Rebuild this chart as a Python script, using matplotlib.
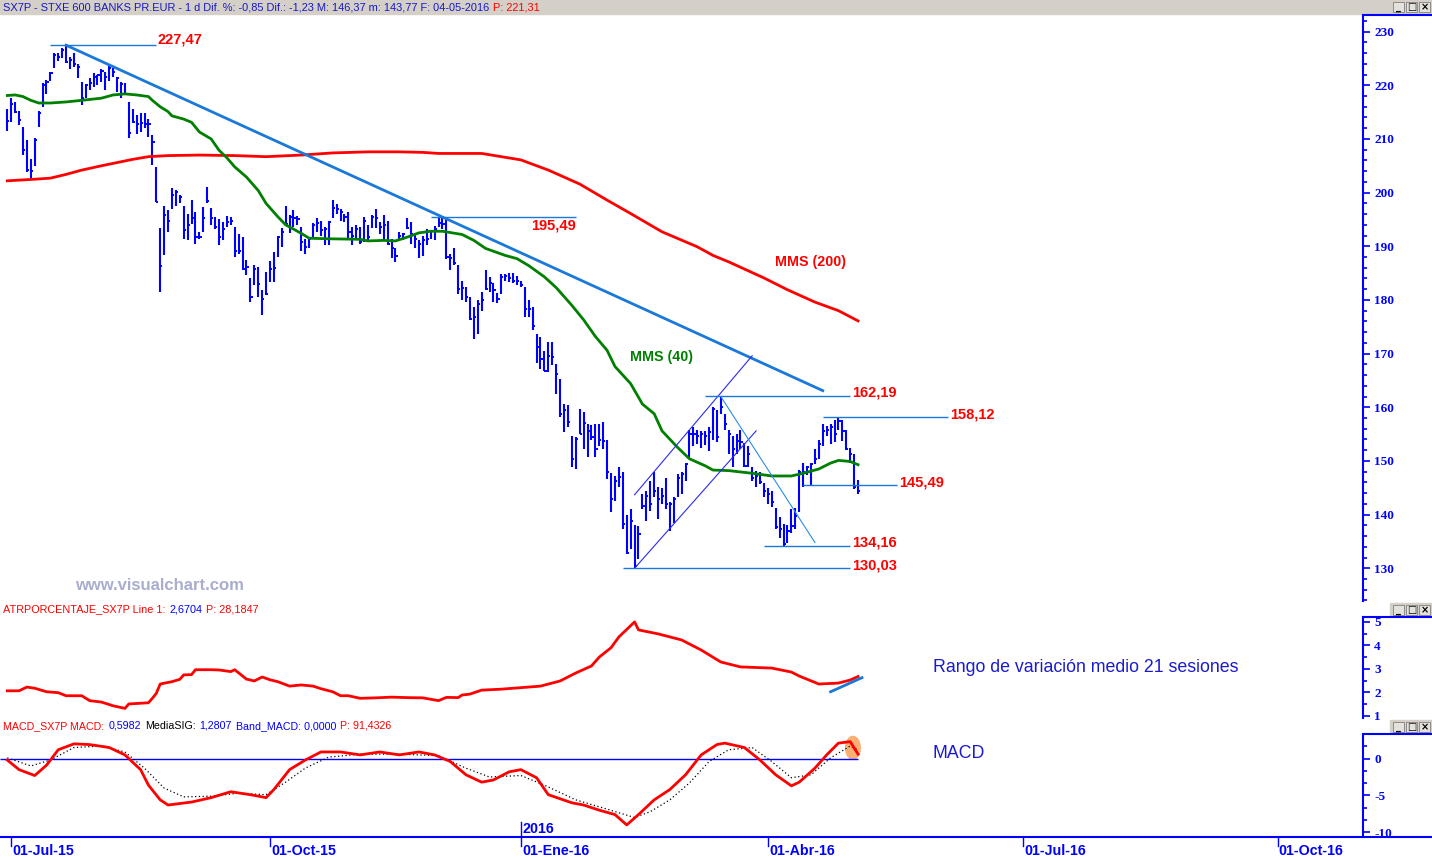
import numpy as np
import matplotlib
matplotlib.use('Agg')
import matplotlib.pyplot as plt
from matplotlib.patches import Rectangle, Ellipse
from matplotlib.lines import Line2D
from matplotlib.transforms import blended_transform_factory

# ---- datos (indice = sesion, 0 = 30-jun-2015) ----
HIGH = [215.6, 217.7, 216.9, 215.2, 212.2, 209.8, 206.2, 210.1, 215.2, 220.4,
        220.9, 222.4, 226.0, 226.0, 226.9, 227.47, 225.2, 226.1, 223.9, 220.7,
        220.2, 221.4, 222.2, 222.0, 223.0, 222.4, 223.8, 223.3, 221.6, 220.7,
        220.4, 216.9, 215.6, 214.4, 214.8, 214.9, 213.7, 210.7, 204.8, 193.4,
        197.5, 196.7, 200.9, 200.4, 199.6, 197.6, 196.0, 198.7, 196.4, 192.7,
        197.3, 201.1, 197.2, 195.5, 195.0, 194.5, 195.6, 195.5, 193.6, 192.2,
        191.7, 187.4, 184.1, 186.6, 186.1, 181.8, 185.2, 187.2, 188.9, 191.9,
        193.4, 197.5, 195.8, 196.7, 195.6, 193.6, 191.4, 191.5, 194.4, 195.3,
        194.8, 193.6, 194.8, 198.6, 197.8, 197.0, 196.1, 196.4, 193.6, 194.0,
        193.6, 195.5, 194.0, 195.9, 196.9, 194.5, 195.8, 194.8, 191.3, 189.6,
        192.7, 192.5, 195.3, 194.5, 192.3, 191.1, 191.9, 193.3, 193.1, 193.7,
        195.2, 195.49, 194.9, 188.6, 189.6, 186.5, 183.6, 182.5, 180.5, 178.7,
        179.9, 181.5, 185.6, 184.3, 183.2, 181.3, 184.8, 184.8, 185.0, 185.0,
        184.4, 183.6, 182.5, 180.0, 178.7, 173.7, 173.1, 170.5, 172.1, 172.1,
        168.1, 165.3, 160.6, 160.5, 154.7, 154.5, 159.7, 159.1, 156.9, 156.7,
        156.9, 156.9, 157.3, 153.9, 147.7, 147.2, 148.8, 147.9, 140.0, 141.0,
        138.1, 137.9, 143.8, 144.4, 146.3, 147.9, 145.1, 144.9, 146.9, 142.3,
        143.3, 147.6, 147.9, 149.7, 155.8, 156.3, 155.8, 155.6, 155.5, 156.3,
        160.1, 159.5, 162.19, 158.8, 155.8, 154.7, 155.0, 155.8, 153.3, 152.8,
        148.8, 148.2, 147.9, 145.8, 144.9, 144.4, 141.3, 139.6, 138.3, 138.1,
        141.0, 141.3, 148.3, 149.7, 149.1, 149.7, 152.2, 153.9, 156.8, 156.6,
        156.9, 157.6, 158.12, 157.6, 155.8, 152.5, 151.3, 146.37]
LOW = [211.5, 213.1, 214.8, 212.6, 207.1, 203.9, 202.8, 204.9, 212.3, 216.0,
       218.3, 220.8, 223.2, 224.5, 225.0, 224.1, 223.0, 223.5, 221.3, 216.4,
       217.6, 219.1, 219.7, 220.1, 220.7, 219.1, 220.8, 221.6, 218.8, 217.6,
       218.2, 210.2, 212.9, 211.0, 211.3, 212.0, 210.4, 205.1, 198.3, 181.5,
       188.4, 192.7, 196.9, 197.6, 198.0, 191.3, 191.1, 194.2, 190.5, 191.4,
       192.7, 198.0, 193.9, 193.3, 190.2, 191.1, 193.6, 193.9, 188.0, 188.6,
       185.5, 184.7, 179.6, 182.7, 180.5, 177.2, 181.0, 183.3, 183.3, 188.0,
       189.9, 193.9, 192.4, 193.6, 193.9, 189.2, 188.6, 189.6, 191.7, 192.7,
       192.0, 190.2, 190.2, 195.3, 196.1, 194.8, 194.5, 191.4, 190.2, 191.1,
       190.5, 190.8, 190.8, 193.4, 193.4, 192.3, 190.9, 190.2, 187.8, 187.1,
       191.1, 191.1, 193.2, 190.5, 189.6, 187.8, 188.2, 190.2, 191.3, 191.1,
       193.6, 193.3, 187.7, 185.5, 186.5, 181.2, 179.9, 179.6, 176.2, 172.8,
       173.7, 178.0, 181.9, 181.5, 179.6, 179.4, 181.2, 183.6, 183.3, 183.2,
       182.7, 182.5, 176.8, 176.8, 174.4, 168.2, 167.2, 166.7, 166.5, 167.8,
       162.5, 158.1, 155.3, 156.3, 148.8, 148.5, 155.0, 152.2, 150.7, 153.9,
       150.8, 152.7, 152.2, 146.6, 140.4, 142.6, 145.1, 137.3, 132.6, 133.6,
       130.03, 131.7, 141.0, 138.8, 140.7, 143.2, 139.2, 142.0, 141.0, 137.0,
       138.5, 143.2, 143.8, 146.3, 150.4, 152.8, 153.2, 152.5, 153.0, 151.9,
       153.9, 153.5, 158.8, 155.8, 151.3, 148.8, 151.3, 152.2, 148.8, 148.8,
       146.3, 145.1, 145.7, 143.2, 142.0, 141.5, 137.3, 135.6, 134.16, 134.8,
       136.5, 137.3, 140.4, 145.2, 147.4, 145.4, 149.4, 150.4, 152.8, 154.7,
       153.2, 153.5, 155.8, 153.8, 152.0, 149.7, 144.8, 143.77]
CLOSE = [213.3, 216.5, 215.1, 213.5, 207.9, 204.2, 204.0, 209.8, 214.9, 220.1,
         220.7, 222.2, 225.7, 225.3, 226.6, 224.4, 224.7, 223.9, 223.5, 217.6,
         220.1, 220.4, 221.6, 221.9, 222.7, 221.6, 223.3, 222.5, 221.3, 220.2,
         218.3, 211.2, 213.1, 212.7, 212.9, 212.7, 212.7, 209.5, 198.3, 186.4,
         195.8, 194.8, 199.5, 200.1, 199.2, 193.0, 193.9, 195.2, 191.7, 191.7,
         195.3, 198.5, 195.2, 193.6, 191.7, 193.3, 194.5, 194.8, 189.2, 189.2,
         185.8, 186.1, 180.5, 185.8, 183.0, 180.2, 181.2, 185.8, 186.0, 191.7,
         192.7, 194.2, 195.5, 195.3, 195.0, 190.8, 189.9, 191.3, 193.9, 194.3,
         193.0, 193.3, 194.5, 197.1, 197.0, 196.4, 195.5, 192.7, 192.0, 193.3,
         190.8, 194.8, 191.7, 195.5, 195.3, 193.6, 194.0, 190.5, 189.6, 188.2,
         191.9, 192.2, 193.4, 192.2, 191.4, 190.5, 191.1, 191.4, 192.8, 193.2,
         194.4, 194.2, 188.0, 187.9, 186.8, 182.1, 182.3, 180.5, 176.5, 176.8,
         179.3, 179.9, 182.1, 183.2, 181.8, 180.2, 184.3, 184.4, 184.1, 183.6,
         183.6, 182.7, 178.4, 178.4, 175.2, 171.2, 169.0, 166.8, 169.6, 169.3,
         166.2, 158.8, 159.4, 157.2, 150.4, 154.1, 155.0, 157.0, 155.6, 154.4,
         152.2, 153.9, 153.8, 147.9, 142.9, 146.3, 147.1, 138.2, 132.9, 138.8,
         130.4, 136.4, 141.6, 143.5, 142.0, 144.4, 142.9, 143.5, 142.0, 142.0,
         142.9, 146.9, 147.6, 149.4, 155.0, 155.1, 154.7, 155.0, 154.7, 155.3,
         159.7, 154.4, 160.0, 156.9, 155.0, 152.2, 153.8, 153.5, 149.1, 151.3,
         146.9, 147.2, 146.0, 144.4, 143.8, 142.3, 137.6, 137.3, 134.5, 137.0,
         137.9, 139.8, 147.9, 147.9, 148.8, 149.4, 150.4, 153.2, 155.6, 155.8,
         156.3, 155.0, 157.5, 155.6, 152.2, 151.3, 145.1, 144.4]

MMS40_X = [0, 2, 4, 6, 8, 11, 15, 19, 24, 27, 30, 33, 36, 37, 39, 41, 42, 45, 47, 49,
           52, 54, 56, 58, 61, 64, 66, 69, 71, 75, 77, 82, 90, 92, 96, 99, 102, 105, 108, 111,
           116, 119, 122, 127, 130, 133, 137, 140, 144, 147, 150, 153, 155, 159, 162, 165, 167, 171, 174, 178,
           180, 184, 190, 195, 200, 203, 207, 210, 212, 215, 217]
MMS40_Y = [218.1, 218.2, 217.9, 217.2, 216.7, 216.7, 216.9, 217.2, 217.6, 218.2, 218.4, 218.2, 217.9, 217.2, 216.0, 215.1, 214.3, 213.7, 213.1, 211.3,
           210.0, 207.9, 206.5, 204.8, 202.9, 200.4, 198.0, 195.5, 194.0, 192.4, 191.5, 191.4, 191.3, 191.0, 191.1, 191.0, 191.7, 192.5, 192.8, 192.8,
           192.2, 191.1, 189.6, 188.3, 187.7, 186.4, 184.3, 182.3, 179.0, 176.3, 173.2, 170.6, 167.6, 164.4, 160.6, 158.8, 155.6, 152.5, 150.4, 149.1,
           148.3, 148.2, 147.7, 147.2, 147.2, 147.7, 148.5, 149.6, 150.1, 149.9, 149.3]

MMS200_X = [0, 7, 11, 15, 19, 24, 28, 32, 36, 41, 49, 58, 66, 75, 83, 92, 100, 106, 110, 121,
            131, 138, 146, 153, 159, 167, 176, 180, 184, 193, 199, 206, 212, 217]
MMS200_Y = [202.2, 202.5, 202.7, 203.4, 204.2, 205.0, 205.6, 206.2, 206.7, 206.9, 207.0, 206.9, 206.7, 207.0, 207.4, 207.6, 207.6, 207.5, 207.3, 207.3,
            206.1, 204.2, 201.6, 198.6, 196.1, 192.7, 189.9, 188.3, 187.1, 184.1, 181.9, 179.6, 178.0, 176.1]

ATR_X = [0, 3, 5, 7, 10, 13, 15, 19, 21, 24, 27, 30, 31, 36, 37, 38, 39, 42, 44, 45,
         47, 48, 52, 54, 57, 58, 61, 63, 65, 67, 69, 72, 75, 78, 80, 83, 85, 87, 90, 94,
         98, 102, 106, 110, 112, 115, 116, 118, 121, 126, 136, 141, 145, 149, 151, 154, 156, 160, 161, 166,
         172, 177, 182, 187, 195, 200, 202, 207, 212, 215, 217]
ATR_Y = [2.06, 2.06, 2.22, 2.17, 2.02, 1.98, 1.85, 1.85, 1.64, 1.58, 1.42, 1.31, 1.50, 1.55, 1.74, 1.95, 2.35, 2.45, 2.55, 2.74,
         2.75, 2.96, 2.96, 2.95, 2.88, 2.96, 2.56, 2.48, 2.65, 2.53, 2.45, 2.26, 2.31, 2.26, 2.15, 2.02, 1.85, 1.85, 1.74, 1.76,
         1.79, 1.77, 1.76, 1.64, 1.78, 1.77, 1.88, 1.92, 2.09, 2.13, 2.26, 2.48, 2.82, 3.12, 3.50, 3.90, 4.36, 5.00, 4.66, 4.49,
         4.23, 3.80, 3.29, 3.08, 3.03, 2.86, 2.69, 2.35, 2.39, 2.52, 2.67]

MACD_X = [0, 3, 7, 10, 13, 17, 21, 26, 30, 34, 36, 39, 41, 47, 52, 57, 62, 66, 68, 72,
          76, 80, 85, 90, 95, 100, 105, 109, 113, 117, 121, 124, 128, 131, 135, 138, 144, 147, 151, 155,
          158, 161, 165, 169, 173, 177, 181, 183, 188, 192, 196, 200, 202, 206, 209, 212, 215, 217]
MACD_Y = [-0.2, -1.5, -2.3, -0.9, 1.2, 2.0, 1.9, 1.5, 0.5, -1.5, -3.6, -5.6, -6.3, -5.9, -5.3, -4.5, -4.9, -5.3, -4.2, -1.5,
          -0.2, 0.9, 0.9, 0.5, 0.9, 0.5, 0.9, 0.5, -0.4, -2.2, -3.2, -2.9, -1.8, -1.5, -2.6, -4.9, -6.0, -6.3, -7.0, -7.6,
          -9.0, -7.6, -5.6, -4.2, -2.2, 0.5, 1.9, 2.1, 1.5, -0.2, -2.2, -3.7, -3.2, -1.3, 0.5, 2.1, 2.3, 0.6]
SIG_X = [0, 6, 11, 17, 24, 30, 35, 40, 45, 52, 59, 66, 71, 76, 82, 90, 100, 110, 117, 123,
         131, 137, 145, 152, 160, 164, 169, 174, 179, 184, 190, 195, 200, 205, 210, 215, 217]
SIG_Y = [0.1, -1.0, -0.2, 1.5, 1.7, 0.9, -1.3, -4.0, -5.2, -5.1, -4.7, -4.9, -3.2, -1.3, 0.2, 0.6, 0.6, 0.4, -1.3, -2.5,
         -2.3, -3.6, -5.6, -6.7, -8.0, -7.2, -5.6, -3.3, -0.4, 1.2, 1.5, -0.4, -2.6, -2.2, 0.1, 1.7, 1.2]
BAND = 0.0

LEVELS = [227.47, 195.49, 162.19, 158.12, 145.49, 134.16, 130.03]
LEVEL_FROM = [11, 108, 178, 208, 203, 193, 157]
LEVEL_TO = [38, 145, 215, 240, 227, 215, 215]
LEVEL_TXT = ['227,47', '195,49', '162,19', '158,12', '145,49', '134,16', '130,03']

TREND_X, TREND_Y = [15, 208], [227.47, 163.1]
CANAL_SUP_X, CANAL_SUP_Y = [160, 190], [143.7, 169.6]
CANAL_INF_X, CANAL_INF_Y = [160, 191], [130.0, 155.6]
CAIDA_X, CAIDA_Y = [182, 206], [162.0, 134.8]
ATR_TREND_X, ATR_TREND_Y = [210, 218], [2.02, 2.62]

XTICK_POS = [1, 67, 131, 194, 259, 324]
XTICK_LAB = ['01-Jul-15', '01-Oct-15', '01-Ene-16', '01-Abr-16', '01-Jul-16', '01-Oct-16']

# ---- estilo ----
W, H = 1432, 857
BLUE = '#0000ff'
LBLUE = '#1a78d8'
RED = '#ff0000'
GREEN = '#008000'
GRAY = '#d4d0c8'
SANS = 'Liberation Sans'
SERIF = 'Liberation Serif'

fig = plt.figure(figsize=(W / 100, H / 100), dpi=100)
fig.patch.set_facecolor('white')


def px_axes(x0, y0, x1, y1):
    return fig.add_axes([x0 / W, 1 - y1 / H, (x1 - x0) / W, (y1 - y0) / H])


def fy(y):
    return 1 - y / H


ax = px_axes(0, 15, 1363, 601)
ax_atr = px_axes(0, 617, 1363, 718)
ax_macd = px_axes(0, 735, 1363, 837)

XLIM = (-1.86, 345.8)
for a in (ax, ax_atr, ax_macd):
    a.set_xlim(*XLIM)
    a.set_facecolor('none')
    for s in ('top', 'left', 'bottom'):
        a.spines[s].set_visible(False)
    a.spines['right'].set_color(BLUE)
    a.spines['right'].set_linewidth(1.5)
    a.yaxis.tick_right()
    a.tick_params(axis='y', which='both', colors=BLUE, direction='out', width=1.2, pad=3)
    a.tick_params(axis='y', which='major', length=5)
    a.tick_params(axis='y', which='minor', length=3)
    a.tick_params(axis='x', which='both', bottom=False, labelbottom=False)


def set_yticks(a, major, minor, labels):
    a.set_yticks(minor, minor=True)
    a.set_yticks(major)
    a.set_yticklabels(labels, fontfamily=SERIF, fontweight='bold', fontsize=9.5, color=BLUE)


# panel precio
ax.set_ylim(123.9, 233.1)
set_yticks(ax, list(range(130, 231, 10)), list(range(124, 233, 2)), [str(v) for v in range(130, 231, 10)])

idx = np.arange(len(CLOSE))
ax.vlines(idx, LOW, HIGH, color=BLUE, lw=1.5)
ax.hlines(CLOSE, idx, idx + 0.55, color=BLUE, lw=1.4)

ax.plot(MMS200_X, MMS200_Y, color=RED, lw=2.0)
ax.plot(MMS40_X, MMS40_Y, color=GREEN, lw=2.0)
ax.plot(TREND_X, TREND_Y, color=LBLUE, lw=2.0)
ax.plot(CANAL_SUP_X, CANAL_SUP_Y, color='#2a2af0', lw=0.8)
ax.plot(CANAL_INF_X, CANAL_INF_Y, color='#2a2af0', lw=0.8)
ax.plot(CAIDA_X, CAIDA_Y, color='#2a8ce8', lw=0.8)

ax.hlines(LEVELS, LEVEL_FROM, LEVEL_TO, color=LBLUE, lw=1.0)
lab_style = dict(color=RED, fontsize=10.5, fontweight='bold', family=SANS)
for v, x0, x1, t in zip(LEVELS, LEVEL_FROM, LEVEL_TO, LEVEL_TXT):
    if t == '195,49':
        ax.annotate(t, (x1, v), xytext=(0, -9), textcoords='offset pixels', ha='right', va='center', **lab_style)
    elif t == '227,47':
        ax.annotate(t, (x1, v), xytext=(1, 6), textcoords='offset pixels', ha='left', va='center', **lab_style)
    else:
        ax.annotate(t, (x1, v), xytext=(2, 3), textcoords='offset pixels', ha='left', va='center', **lab_style)

ax.text(195.8, 187.0, 'MMS (200)', color=RED, fontsize=10.3, fontweight='bold', family=SANS, va='center')
ax.text(158.8, 169.3, 'MMS (40)', color=GREEN, fontsize=10.3, fontweight='bold', family=SANS, va='center')

# panel ATR
ax_atr.set_ylim(0.9, 5.21)
set_yticks(ax_atr, [1, 2, 3, 4, 5], [1.5, 2.5, 3.5, 4.5], ['1', '2', '3', '4', '5'])
ax_atr.plot(ATR_X, ATR_Y, color=RED, lw=2.0)
ax_atr.plot(ATR_TREND_X, ATR_TREND_Y, color=LBLUE, lw=2.0)

# panel MACD
ax_macd.set_ylim(-10.64, 3.2)
set_yticks(ax_macd, [0, -5, -10], [5 / 3, -5 / 3, -10 / 3, -20 / 3, -25 / 3], ['0', '-5', '-10'])
ax_macd.add_patch(Ellipse((215.7, 1.45), 4.1, 3.3, color='#f7a35c', alpha=0.85, lw=0, zorder=1))
ax_macd.hlines(BAND, XLIM[0], 217, color=BLUE, lw=1.0, zorder=2)
ax_macd.plot(SIG_X, SIG_Y, color='black', lw=0.9, ls=(0, (1, 2)), zorder=3)
ax_macd.plot(MACD_X, MACD_Y, color=RED, lw=2.0, zorder=4)

# eje de fechas
tr = blended_transform_factory(ax_macd.transData, fig.transFigure)
fig.add_artist(Line2D([0, 1], [fy(837), fy(837)], color=BLUE, lw=1.5))
for p, lab in zip(XTICK_POS, XTICK_LAB):
    fig.add_artist(Line2D([p, p], [fy(837), fy(846)], color=BLUE, lw=1.0, transform=tr))
    fig.text(p + 0.3, fy(851), lab, transform=tr, ha='left', va='center', color=BLUE,
             fontsize=10.3, fontweight='bold', family=SANS)
fig.add_artist(Line2D([131, 131], [fy(822), fy(837)], color=BLUE, lw=1.0, transform=tr))
fig.text(131.5, fy(829), '2016', transform=tr, ha='left', va='center', color=BLUE,
         fontsize=10.3, fontweight='bold', family=SANS)

# marcos derechos
for y in (15, 617, 734):
    fig.add_artist(Line2D([1363 / W, 1], [fy(y), fy(y)], color=BLUE, lw=1.5))

# barra de titulo y botones
fig.patches.append(Rectangle((0, fy(14)), 1, 14 / H, transform=fig.transFigure, color=GRAY, zorder=0))
for y0 in (603, 720):
    fig.patches.append(Rectangle((1390 / W, fy(y0 + 12)), 42 / W, 12 / H, transform=fig.transFigure,
                                 color=GRAY, zorder=0))
for y0 in (2, 605, 722):
    for k, g in enumerate(['_', '\u25a1', '\u00d7']):
        x0 = 1393 + k * 13
        fig.patches.append(Rectangle((x0 / W, fy(y0 + 10)), 11 / W, 10 / H, transform=fig.transFigure,
                                     facecolor='#e4e2dc', edgecolor='#808080', lw=0.6))
        fig.text((x0 + 5.5) / W, fy(y0 + 5), g, ha='center', va='center', fontsize=7,
                 fontweight='bold', color='black', family='DejaVu Sans')

renderer = fig.canvas.get_renderer()


def colored_text(x, y, pieces, size):
    for txt, col in pieces:
        t = fig.text(x / W, fy(y), txt, color=col, fontsize=size, ha='left', va='center', family=SANS)
        x = t.get_window_extent(renderer).x1 + 4


colored_text(3, 7, [('SX7P - STXE 600 BANKS PR.EUR - 1 d Dif. %: -0,85 Dif.: -1,23 M: 146,37 '
                     'm: 143,77 F: 04-05-2016', '#1818c8'), ('P: 221,31', RED)], 7.9)
colored_text(3, 609, [('ATRPORCENTAJE_SX7P Line 1:', RED), ('2,6704', BLUE), ('P: 28,1847', RED)], 7.8)
colored_text(3, 726, [('MACD_SX7P MACD:', RED), ('0,5982', BLUE), ('MediaSIG:', 'black'),
                      ('1,2807', BLUE), ('Band_MACD: 0,0000', BLUE), ('P: 91,4326', RED)], 7.7)

fig.text(75 / W, fy(586), 'www.visualchart.com', color='#a9adce', fontsize=12, fontweight='bold',
         family=SANS, va='center')
fig.text(933 / W, fy(668), 'Rango de variación medio 21 sesiones', color='#1a1ad0', fontsize=12.8,
         family=SANS, va='center')
fig.text(933 / W, fy(754), 'MACD', color='#1a1ad0', fontsize=12.8, family=SANS, va='center')

fig.savefig('out.png', dpi=100, facecolor='white')
